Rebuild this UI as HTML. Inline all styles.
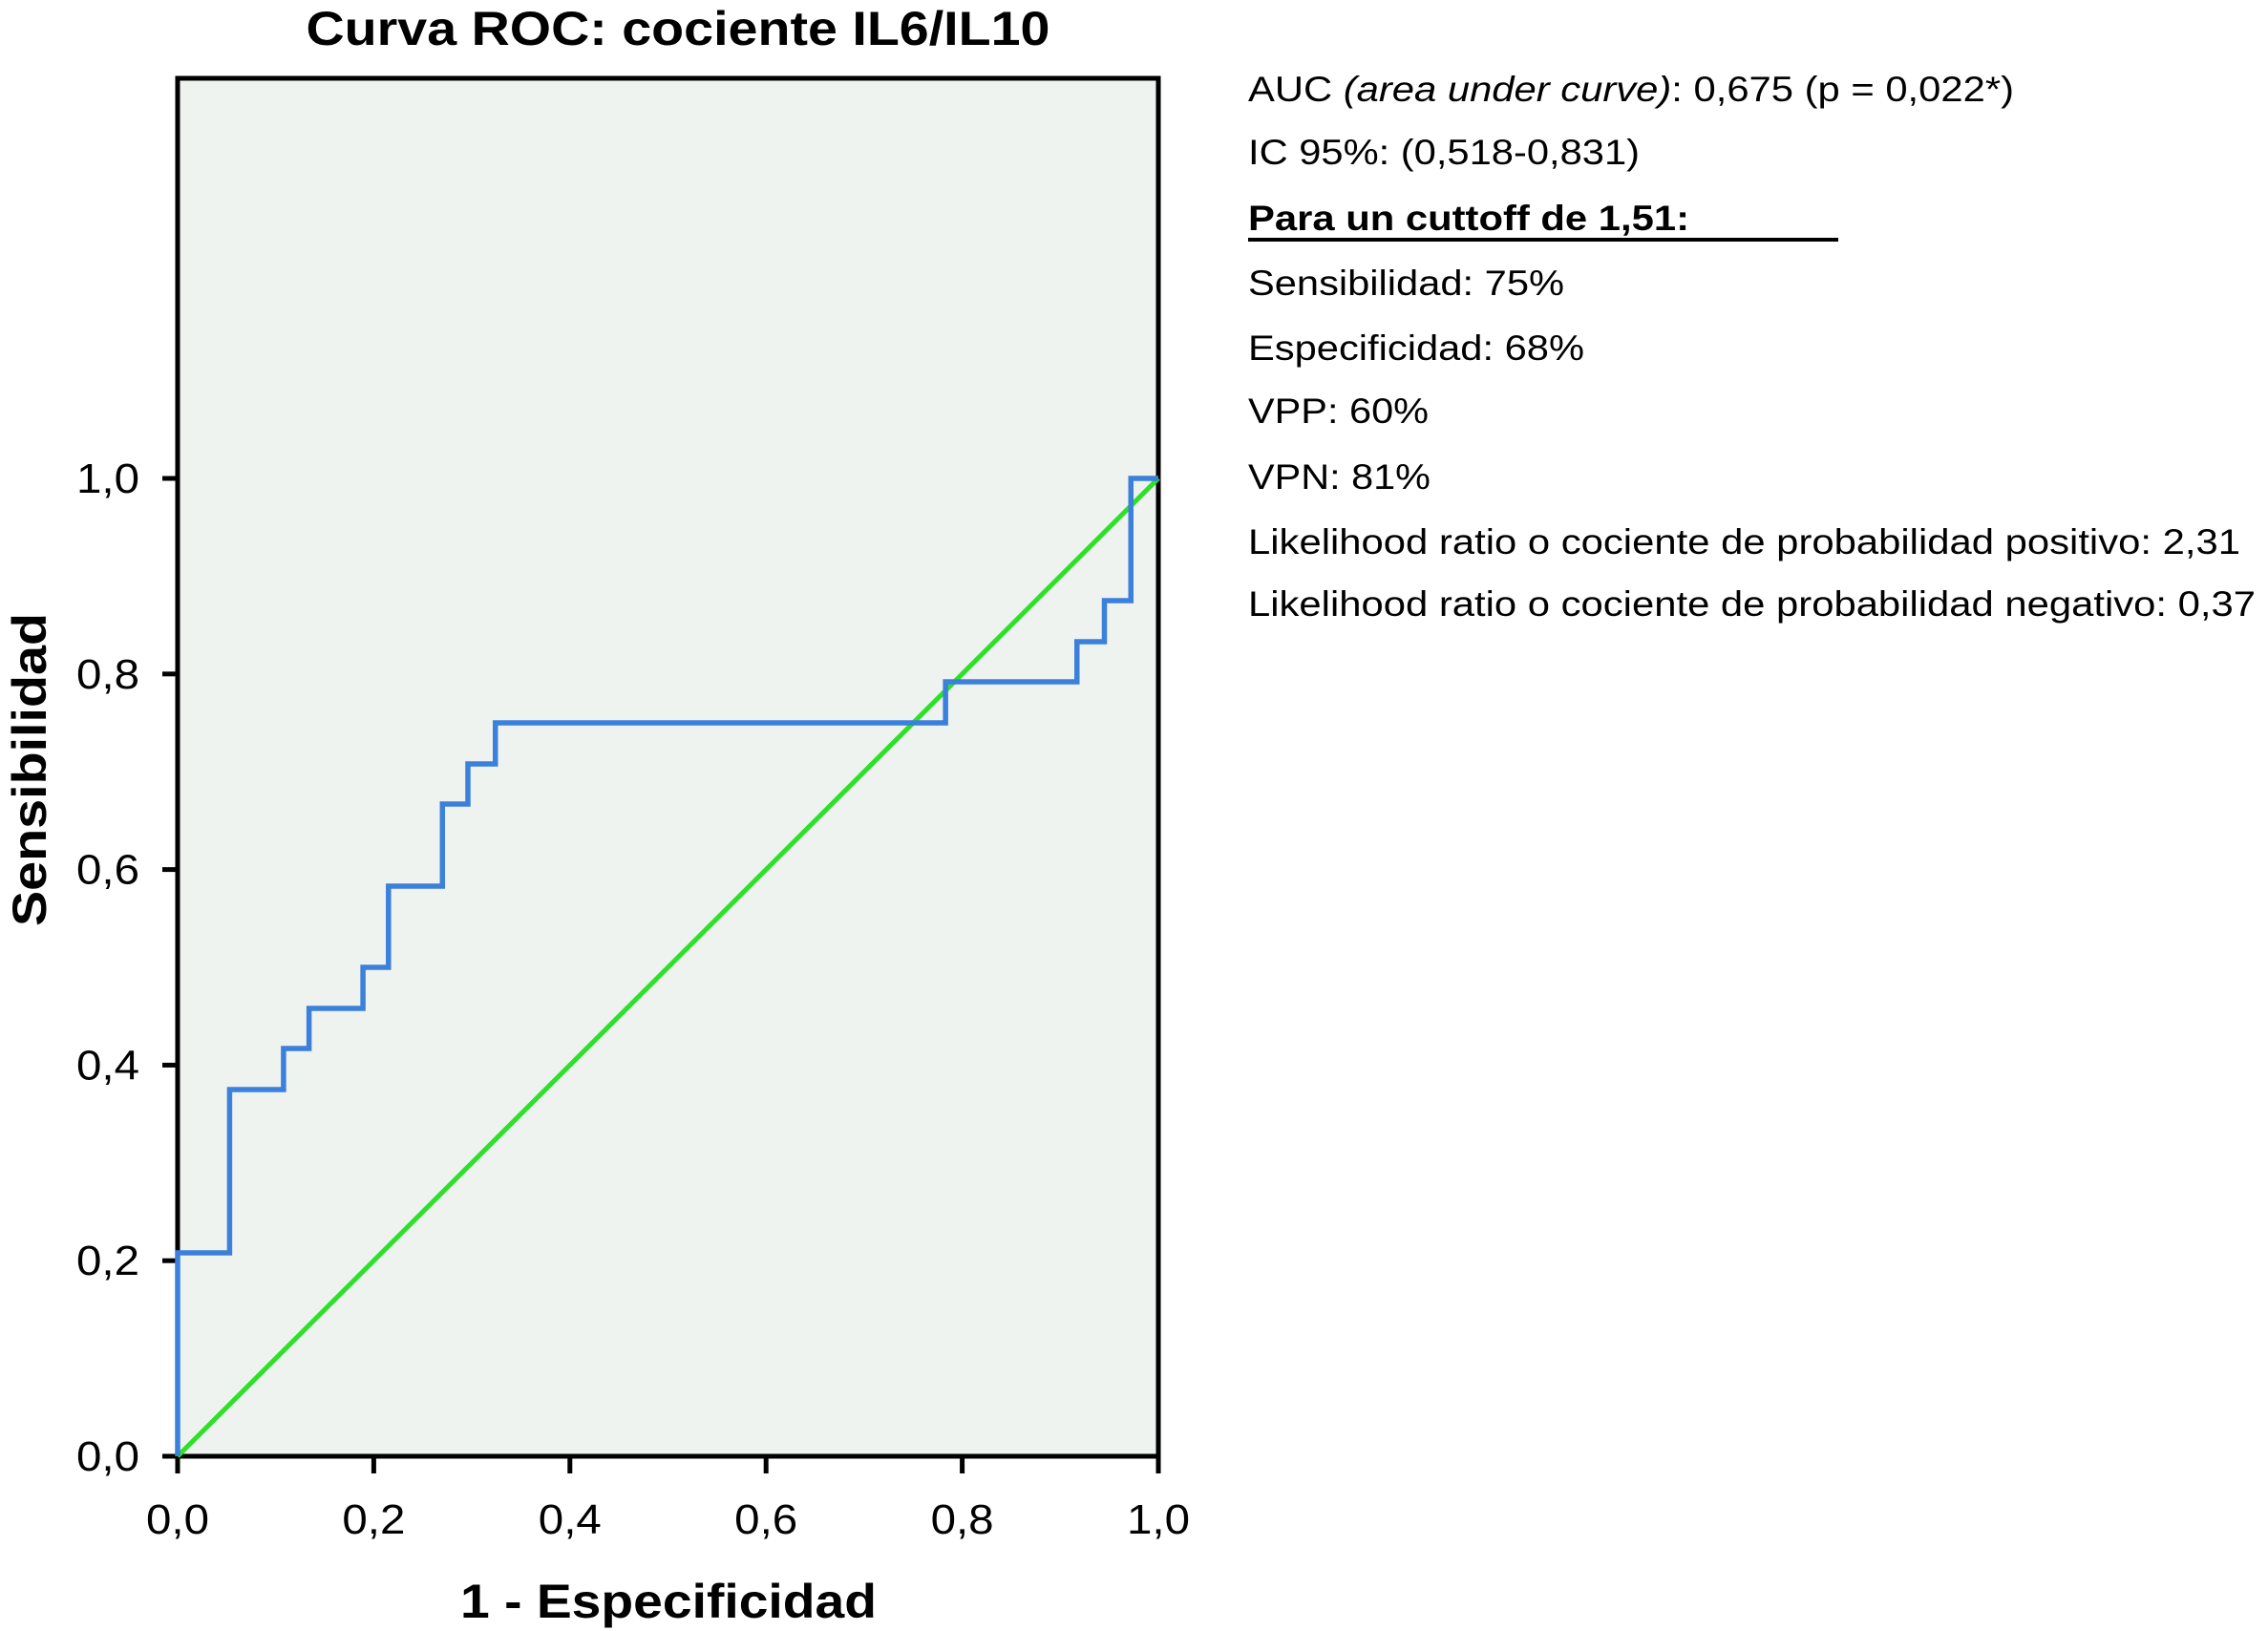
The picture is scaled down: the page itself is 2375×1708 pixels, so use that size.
<!DOCTYPE html>
<html><head><meta charset="utf-8"><style>
html,body{margin:0;padding:0;background:#fff;}
svg{display:block;font-family:"Liberation Sans",sans-serif;}
</style></head><body>
<svg id="chart" width="2375" height="1708" viewBox="0 0 2375 1708" xmlns="http://www.w3.org/2000/svg">
<text x="710" y="47" text-anchor="middle" font-size="50" font-weight="bold" textLength="779" lengthAdjust="spacingAndGlyphs">Curva ROC: cociente IL6/IL10</text>
<rect x="186" y="82" width="1027" height="1443" fill="#eff3f0" stroke="#000" stroke-width="5"/>
<g id="ticks"></g>
<g id="series"></g>
<text x="700" y="1694" text-anchor="middle" font-size="50" font-weight="bold" textLength="436" lengthAdjust="spacingAndGlyphs">1 - Especificidad</text>
<text transform="translate(48,806) rotate(-90)" text-anchor="middle" font-size="50" font-weight="bold" textLength="328" lengthAdjust="spacingAndGlyphs">Sensibilidad</text>
<g font-size="37" fill="#000">
<text x="1307" y="106" textLength="802" lengthAdjust="spacingAndGlyphs">AUC <tspan font-style="italic">(area under curve)</tspan>: 0,675 (p = 0,022*)</text>
<text x="1307" y="172" textLength="410" lengthAdjust="spacingAndGlyphs">IC 95%: (0,518-0,831)</text>
<text x="1307" y="241" font-weight="bold" textLength="462" lengthAdjust="spacingAndGlyphs">Para un cuttoff de 1,51:</text>
<line x1="1307" y1="251" x2="1925" y2="251" stroke="#000" stroke-width="4"/>
<text x="1307" y="309" textLength="331" lengthAdjust="spacingAndGlyphs">Sensibilidad: 75%</text>
<text x="1307" y="377" textLength="352" lengthAdjust="spacingAndGlyphs">Especificidad: 68%</text>
<text x="1307" y="443" textLength="189" lengthAdjust="spacingAndGlyphs">VPP: 60%</text>
<text x="1307" y="512" textLength="191" lengthAdjust="spacingAndGlyphs">VPN: 81%</text>
<text x="1307" y="580" textLength="1039" lengthAdjust="spacingAndGlyphs">Likelihood ratio o cociente de probabilidad positivo: 2,31</text>
<text x="1307" y="645" textLength="1055" lengthAdjust="spacingAndGlyphs">Likelihood ratio o cociente de probabilidad negativo: 0,37</text>
</g>
</svg>
<script>
const fprPoints = [0,0,0.053,0.053,0.108,0.108,0.134,0.134,0.189,0.189,0.215,0.215,0.27,0.27,0.296,0.296,0.324,0.324,0.783,0.783,0.917,0.917,0.945,0.945,0.972,0.972,1];
const tprPoints = [0,0.208,0.208,0.375,0.375,0.417,0.417,0.458,0.458,0.5,0.5,0.583,0.583,0.667,0.667,0.708,0.708,0.75,0.75,0.792,0.792,0.833,0.833,0.875,0.875,1,1];
const refX = [0,1];
const refY = [0,1];
const tickValues = [0,0.2,0.4,0.6,0.8,1.0];
const tickLabels = ["0,0","0,2","0,4","0,6","0,8","1,0"];

const NS = "http://www.w3.org/2000/svg";
const X0 = 186, X1 = 1213, Y0 = 1525, Y1 = 501;
function sx(v){ return X0 + v*(X1-X0); }
function sy(v){ return Y0 - v*(Y0-Y1); }

const ticks = document.getElementById('ticks');
tickValues.forEach((v,i)=>{
  let t = document.createElementNS(NS,'line');
  
  
  t.setAttribute('x1', X0-16); t.setAttribute('x2', X0);
  t.setAttribute('y1', sy(v)); t.setAttribute('y2', sy(v));
  t.setAttribute('stroke','#000'); t.setAttribute('stroke-width','5');
  ticks.appendChild(t);
  let l = document.createElementNS(NS,'text');
  
  
  l.setAttribute('x', 146); l.setAttribute('y', sy(v)+15);
  l.setAttribute('text-anchor','end'); l.setAttribute('font-size','44');
  l.setAttribute('textLength','66'); l.setAttribute('lengthAdjust','spacingAndGlyphs');
  l.textContent = tickLabels[i];
  ticks.appendChild(l);
  let tx = document.createElementNS(NS,'line');
  
  
  tx.setAttribute('x1', sx(v)); tx.setAttribute('x2', sx(v));
  tx.setAttribute('y1', Y0); tx.setAttribute('y2', Y0+18);
  tx.setAttribute('stroke','#000'); tx.setAttribute('stroke-width','5');
  ticks.appendChild(tx);
  let lx = document.createElementNS(NS,'text');
  
  
  lx.setAttribute('x', sx(v)); lx.setAttribute('y', 1606);
  lx.setAttribute('text-anchor','middle'); lx.setAttribute('font-size','44');
  lx.setAttribute('textLength','66'); lx.setAttribute('lengthAdjust','spacingAndGlyphs');
  lx.textContent = tickLabels[i];
  ticks.appendChild(lx);
});

const series = document.getElementById('series');
const ref = document.createElementNS(NS,'polyline');


ref.setAttribute('points', refX.map((x,i)=>sx(x)+','+sy(refY[i])).join(' '));
ref.setAttribute('fill','none'); ref.setAttribute('stroke','#2ee02a'); ref.setAttribute('stroke-width','5');
series.appendChild(ref);
const roc = document.createElementNS(NS,'polyline');


roc.setAttribute('points', fprPoints.map((x,i)=>sx(x)+','+sy(tprPoints[i])).join(' '));
roc.setAttribute('fill','none'); roc.setAttribute('stroke','#3b80db'); roc.setAttribute('stroke-width','5.5');
series.appendChild(roc);
</script>
</body></html>
